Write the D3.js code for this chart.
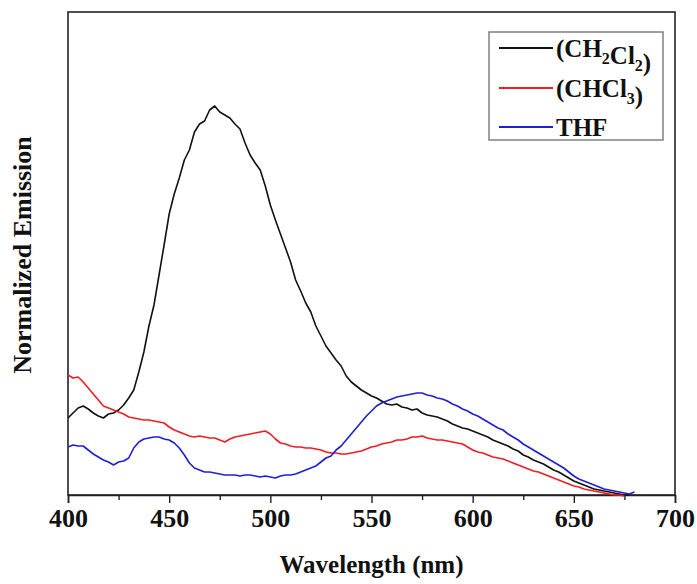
<!DOCTYPE html>
<html>
  <head>
    <meta charset="utf-8" />
    <title>Normalized Emission</title>
    <script src="https://cdn.jsdelivr.net/npm/d3@7"></script>
    <style type="text/css">
      body { margin: 0; background: #fff; }
      text { font-family: "Liberation Serif", "Times New Roman", serif; font-weight: bold; }
    </style>
  </head>

  <body>
    <svg id="chart" width="697" height="584"></svg>
    <script type="text/javascript">
      // wavelength grid, 400 - 680 nm every 2.5 nm
      var wl = d3.range(0, 113).map((i) => 400 + i * 2.5);

      // raw emission (a.u.)
      var ch2cl2 = [77, 82, 87, 89, 86, 82, 79, 77, 81, 82, 85, 90, 97, 105, 123, 143, 169, 190, 220, 250,
        281, 301, 317, 335, 345, 363, 371, 374, 385, 389, 383, 380, 377, 371, 366, 352, 340, 332, 325, 309,
        290, 275, 261, 247, 233, 215, 204, 192, 183, 169, 159, 149, 142, 135, 129, 119, 113, 109, 105, 102,
        99, 97, 94, 91, 90, 91, 88, 87, 85, 86, 82, 80, 79, 78, 76, 74, 71, 69, 67, 66,
        64, 62, 60, 58, 55, 53, 51, 49, 46, 44, 40, 38, 35, 33, 31, 28, 25, 23, 20, 17,
        14, 12, 10, 8, 6, 5, 4, 3, 2, 1, 0, 0];
      var chcl3 = [120, 117, 118, 113, 107, 101, 95, 89, 87, 85, 83, 81, 78, 77, 76, 75, 75, 74, 73, 72,
        68, 65, 63, 61, 59, 58, 59, 58, 57, 57, 55, 53, 56, 58, 59, 60, 61, 62, 63, 64,
        61, 56, 52, 51, 49, 48, 48, 47, 47, 46, 45, 43, 42, 42, 41, 41, 42, 43, 44, 46,
        48, 49, 51, 52, 53, 55, 55, 56, 58, 58, 59, 57, 56, 55, 55, 54, 53, 52, 51, 48,
        45, 43, 42, 40, 38, 37, 36, 34, 32, 30, 28, 26, 24, 23, 21, 19, 17, 15, 13, 11,
        9, 8, 6, 5, 4, 3, 2, 1, 0, 0, -1];
      var thf = [48, 50, 49, 49, 45, 41, 38, 35, 33, 30, 33, 34, 37, 47, 53, 56, 57, 58, 58, 56,
        55, 52, 47, 40, 32, 27, 25, 23, 23, 22, 21, 20, 20, 20, 19, 20, 20, 19, 18, 19,
        18, 17, 19, 20, 20, 21, 23, 25, 27, 29, 33, 37, 39, 45, 49, 55, 61, 67, 73, 79,
        84, 89, 92, 94, 96, 98, 99, 100, 101, 102, 102, 100, 99, 97, 96, 94, 91, 89, 86, 84,
        81, 79, 76, 73, 70, 67, 65, 61, 58, 55, 51, 48, 45, 42, 39, 36, 33, 30, 27, 23,
        19, 16, 14, 12, 10, 8, 6, 5, 4, 3, 2, 1, 3];

      var seriesNames = ['(CH2Cl2)', '(CHCl3)', 'THF'];
      var seriesColors = ['#111111', '#ee1c24', '#1f1fd6'];
      var seriesData = [ch2cl2, chcl3, thf];
      var xTicks = [400, 450, 500, 550, 600, 650, 700];

      var peak = d3.max(ch2cl2);

      var W = 697, H = 584;
      var m = { top: 12, right: 22, bottom: 89, left: 68 };

      var svg = d3.select('#chart');

      var scX = d3.scaleLinear().domain([400, 700]).range([m.left, W - m.right]);
      var scY = d3.scaleLinear().domain([0, 483 / 389]).range([H - m.bottom, m.top]);

      // frame
      svg.append('rect')
        .attr('x', m.left).attr('y', m.top)
        .attr('width', W - m.right - m.left).attr('height', H - m.bottom - m.top)
        .attr('fill', 'none').attr('stroke', '#222').attr('stroke-width', 1.6);

      // x axis, major + minor ticks outward
      var gx = svg.append('g').attr('transform', 'translate(0,' + (H - m.bottom) + ')');
      gx.call(d3.axisBottom(scX).tickValues(d3.range(425, 700, 50)).tickSize(5).tickFormat(''));
      gx.call((g) => g.select('.domain').remove());
      var gx2 = svg.append('g').attr('transform', 'translate(0,' + (H - m.bottom) + ')');
      gx2.call(d3.axisBottom(scX).tickValues(xTicks).tickSize(8).tickPadding(6).tickFormat(d3.format('d')));
      gx2.select('.domain').attr('stroke', '#222').attr('stroke-width', 1.6);
      svg.selectAll('.tick line').attr('stroke', '#222').attr('stroke-width', 1.4);
      gx2.selectAll('.tick text')
        .attr('font-size', 26).attr('fill', '#111')
        .style('font-family', '"Liberation Serif", serif').style('font-weight', 'bold');

      // axis titles
      svg.append('text')
        .attr('x', (m.left + W - m.right) / 2).attr('y', 573)
        .attr('text-anchor', 'middle').attr('font-size', 25).attr('fill', '#111')
        .text('Wavelength (nm)');
      svg.append('text')
        .attr('transform', 'translate(31,255) rotate(-90)')
        .attr('text-anchor', 'middle').attr('font-size', 26).attr('fill', '#111')
        .text('Normalized Emission');

      // curves
      var line = d3.line()
        .x((d, i) => scX(wl[i]))
        .y((d) => scY(d / peak));

      seriesData.forEach(function (s, k) {
        svg.append('path')
          .datum(s)
          .attr('d', line)
          .attr('fill', 'none')
          .attr('stroke', seriesColors[k])
          .attr('stroke-width', 1.6)
          .attr('stroke-linejoin', 'round');
      });

      // legend
      var lg = svg.append('g');
      lg.append('rect')
        .attr('x', 489).attr('y', 32).attr('width', 174).attr('height', 108)
        .attr('fill', '#fff').attr('stroke', '#777').attr('stroke-width', 1.4);

      var rows = [48, 88, 127];
      seriesNames.forEach(function (n, k) {
        lg.append('line')
          .attr('x1', 499).attr('x2', 553)
          .attr('y1', rows[k]).attr('y2', rows[k])
          .attr('stroke', seriesColors[k]).attr('stroke-width', 1.8);
        var t = lg.append('text')
          .attr('x', 556).attr('y', rows[k] + 9)
          .attr('font-size', 25).attr('fill', '#111');
        // chemical formulas with subscripts
        var parts = n.split(/(\d)/);
        parts.forEach(function (p) {
          if (p === '') return;
          if (/\d/.test(p)) {
            t.append('tspan').attr('font-size', 16).attr('dy', 7).text(p);
            t.append('tspan').attr('dy', -7).text('');
          } else {
            t.append('tspan').text(p);
          }
        });
      });
    </script>
  </body>
</html>
